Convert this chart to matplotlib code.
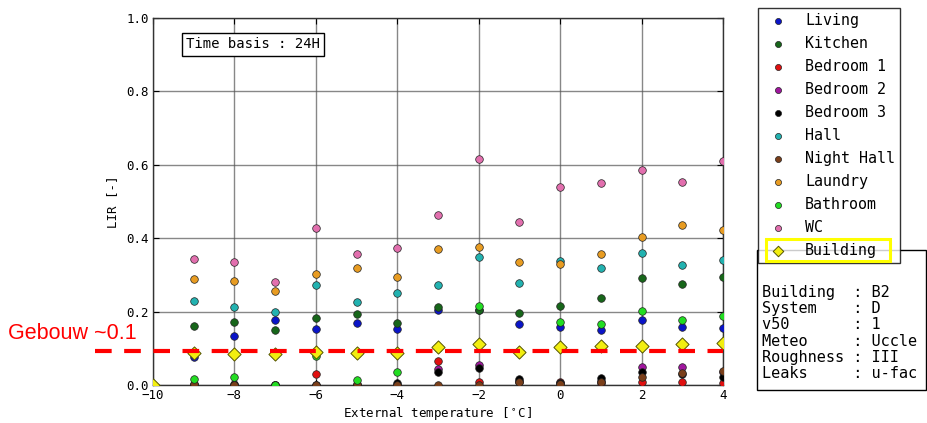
import matplotlib
matplotlib.use("Agg")
import matplotlib.pyplot as plt
from matplotlib.patches import Rectangle
from matplotlib.lines import Line2D

plt.rcParams['font.family'] = ['DejaVu Sans Mono']
plt.rcParams['mathtext.fontset'] = 'dejavusans'

TEMPS = [-9, -8, -7, -6, -5, -4, -3, -2, -1, 0, 1, 2, 3, 4]
BUILDING_TEMPS = [-10, -9, -8, -7, -6, -5, -4, -3, -2, -1, 0, 1, 2, 3, 4]

living    = [0.075, 0.134, 0.178, 0.152, 0.170, 0.152, 0.204, 0.205, 0.167, 0.158, 0.151, 0.178, 0.159, 0.154]
kitchen   = [0.161, 0.172, 0.151, 0.182, 0.193, 0.170, 0.212, 0.204, 0.197, 0.216, 0.238, 0.292, 0.275, 0.293]
bedroom1  = [0.000, 0.000, 0.000, 0.030, 0.000, 0.000, 0.065, 0.009, 0.007, 0.009, 0.005, 0.007, 0.009, 0.005]
bedroom2  = [0.000, 0.000, 0.000, 0.000, 0.000, 0.000, 0.044, 0.054, 0.010, 0.005, 0.010, 0.050, 0.050, 0.035]
bedroom3  = [0.002, 0.003, 0.000, 0.000, 0.000, 0.005, 0.035, 0.047, 0.016, 0.005, 0.018, 0.035, 0.030, 0.021]
hall      = [0.230, 0.213, 0.198, 0.272, 0.226, 0.252, 0.272, 0.349, 0.278, 0.338, 0.320, 0.359, 0.328, 0.341]
night_hall= [0.002, 0.000, 0.000, 0.000, 0.002, 0.000, 0.000, 0.000, 0.007, 0.003, 0.007, 0.021, 0.034, 0.039]
laundry   = [0.290, 0.284, 0.256, 0.302, 0.318, 0.295, 0.371, 0.376, 0.335, 0.329, 0.356, 0.402, 0.436, 0.422]
bathroom  = [0.016, 0.023, 0.000, 0.080, 0.013, 0.035, 0.100, 0.215, 0.090, 0.172, 0.167, 0.202, 0.176, 0.189]
wc        = [0.344, 0.335, 0.280, 0.429, 0.357, 0.372, 0.464, 0.617, 0.443, 0.540, 0.550, 0.586, 0.554, 0.610]
building  = [0.000, 0.086, 0.085, 0.084, 0.089, 0.086, 0.086, 0.103, 0.111, 0.091, 0.104, 0.105, 0.107, 0.111, 0.114]

ROOM_NAMES = ['Living', 'Kitchen', 'Bedroom 1', 'Bedroom 2', 'Bedroom 3', 'Hall',
              'Night Hall', 'Laundry', 'Bathroom', 'WC']
ROOM_VALUES = [living, kitchen, bedroom1, bedroom2, bedroom3, hall,
               night_hall, laundry, bathroom, wc]
ROOM_COLORS = ['#0a14c8', '#17661a', '#e01010', '#a0169e', '#000000', '#22b2b0',
               '#7a3f1a', '#e89c22', '#22dd22', '#e26fae']

TIME_BASIS = 'Time basis : 24H'
INFO_KEYS = ['Building', 'System', 'v50', 'Meteo', 'Roughness', 'Leaks']
INFO_VALS = ['B2', 'D', '1', 'Uccle', 'III', 'u-fac']
THRESHOLD = 0.093
THRESHOLD_LABEL = 'Gebouw ~0.1'

W, H = 928, 423
fig = plt.figure(figsize=(W / 100, H / 100), dpi=100)
fig.patch.set_facecolor('white')

ax_l, ax_r, ax_t, ax_b = 153, 723, 18, 385
ax = fig.add_axes([ax_l / W, 1 - ax_b / H, (ax_r - ax_l) / W, (ax_b - ax_t) / H])

for name, vals, col in zip(ROOM_NAMES, ROOM_VALUES, ROOM_COLORS):
    ax.scatter(TEMPS, vals, s=30, c=col, edgecolors='#222222', linewidths=0.5,
               label=name, zorder=3)
ax.scatter(BUILDING_TEMPS, building, s=45, marker='D', c='#f2ee10',
           edgecolors='#555500', linewidths=0.7, label='Building', zorder=4)

ax.set_xlim(-10, 4)
ax.set_ylim(0, 1.0)
ax.set_xticks(range(-10, 5, 2))
ax.set_yticks([0.0, 0.2, 0.4, 0.6, 0.8, 1.0])
ax.set_yticklabels(['0.0', '0.2', '0.4', '0.6', '0.8', '1.0'])
ax.grid(True, color='#555555', alpha=0.7, linewidth=1.0, zorder=0)
ax.set_axisbelow(True)
ax.tick_params(labelsize=9, direction='in', length=4, top=True, right=True, pad=3)
for sp in ax.spines.values():
    sp.set_color('#333333')
    sp.set_linewidth(1.0)
ax.set_xlabel('External temperature [$^\\circ$C]', fontsize=9, labelpad=2)
ax.set_ylabel('LIR [-]', fontsize=9, labelpad=5)

ax.text(0.1754, 0.928, TIME_BASIS, transform=ax.transAxes, ha='center', va='center',
        fontsize=10, bbox=dict(boxstyle='square,pad=0.3', fc='white', ec='black', lw=1))

# red threshold line across figure
y_thr_fig = (1 - ax_b / H) + THRESHOLD * (ax_b - ax_t) / H
x_end = ax.transData.transform((4, 0))[0] / W
fig.add_artist(Line2D([95 / W, x_end], [y_thr_fig, y_thr_fig], color='#ff0000',
                      linewidth=3, dashes=(4, 3), zorder=6))
fig.text(8 / W, 1 - 333 / H, THRESHOLD_LABEL, color='#ff0000', fontsize=15.5,
         family=['Liberation Sans'], ha='left', va='center')

# info box
fig.add_artist(Rectangle((757 / W, 1 - 390 / H), (926 - 757) / W, (390 - 250) / H,
                         transform=fig.transFigure, fc='white', ec='black', lw=1, zorder=2))
info = '\n'.join(f'{k:<10}: {v}' for k, v in zip(INFO_KEYS, INFO_VALS))
fig.text(762 / W, 1 - 285 / H, info, fontsize=11, ha='left', va='top',
         linespacing=1.1, zorder=3)

leg = fig.legend(loc='upper left', bbox_to_anchor=(758 / W, 1 - 8 / H), borderaxespad=0,
                 fontsize=10.8, scatterpoints=1, frameon=True, fancybox=False,
                 labelspacing=0.53, markerscale=0.8, borderpad=0.35)
leg.get_frame().set_edgecolor('black')
leg.get_frame().set_linewidth(1)
leg.set_zorder(5)

fig.add_artist(Rectangle((766 / W, 1 - 261 / H), (890 - 766) / W, (261 - 239) / H,
                         transform=fig.transFigure, fill=False, ec='#ffff00', lw=2.2, zorder=10))

fig.savefig('out.png', dpi=100)
